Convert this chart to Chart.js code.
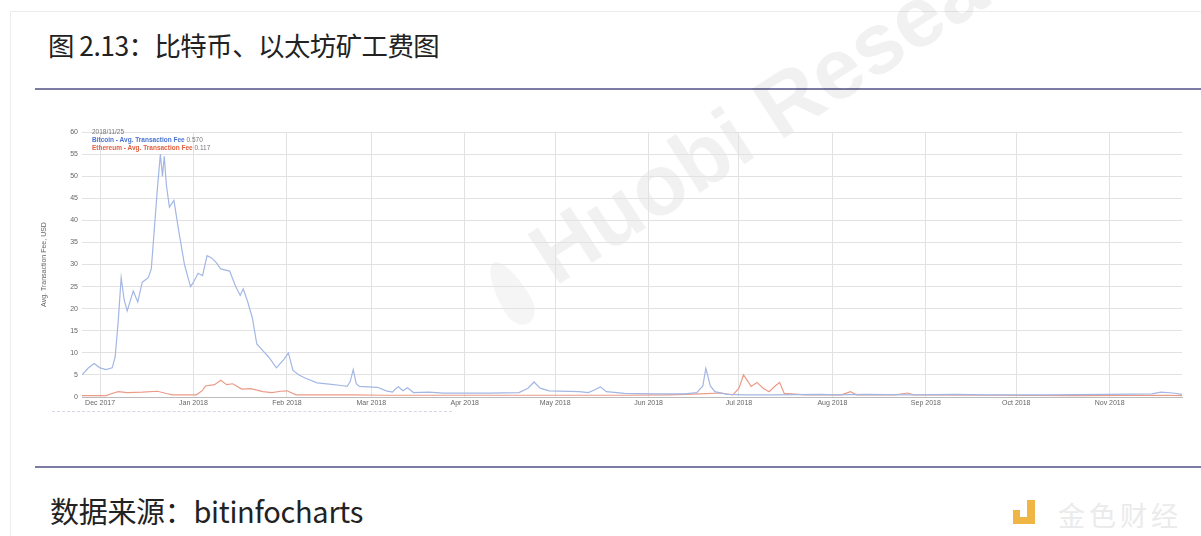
<!DOCTYPE html>
<html>
<head>
<meta charset="utf-8">
<script src="https://cdn.jsdelivr.net/npm/chart.js@4.4.1/dist/chart.umd.min.js"></script>
<style>
  html, body { margin: 0; padding: 0; background: #fff; }
  body { width: 1201px; height: 536px; position: relative; overflow: hidden; font-family: "Noto Sans CJK SC", "Noto Sans", sans-serif; }
  .card { position: absolute; left: 10px; top: 11px; width: 1300px; height: 600px; border-left: 1px solid #ececec; border-top: 1px solid #ececec; }
  .title { position: absolute; left: 48px; top: 25px; font-size: 26.4px; color: #222; letter-spacing: -0.5px; }
  .rule { position: absolute; left: 35px; right: 0; height: 2px; background: #7b7ba3; }
  .source { position: absolute; left: 50px; top: 490px; font-size: 29px; line-height: 40px; color: #222; letter-spacing: -0.3px; }
  #wrap { position: absolute; left: 40px; top: 120px; width: 1160px; height: 300px; }
  .legend { position: absolute; left: 92px; top: 128px; font-family: Arial, "Liberation Sans", sans-serif; font-size: 6.5px; line-height: 8px; color: #777; }
  .legend b { font-weight: bold; }
  .watermark { position: absolute; left: 562px; top: 212px; font-family: Arial, "Liberation Sans", sans-serif; font-size: 86px; font-weight: 600; line-height: 1; color: rgba(0,0,0,0.055); white-space: nowrap; transform-origin: 0 100%; transform: rotate(-33deg); }
  .drop { position: absolute; left: 496px; top: 258px; width: 30px; height: 70px; border-radius: 50% 50% 50% 50% / 70% 70% 30% 30%; background: rgba(0,0,0,0.04); transform: rotate(-30deg); }
  .dash { position: absolute; left: 52px; top: 411px; width: 400px; border-top: 1px dashed #d6d6e4; }
  .logo { position: absolute; left: 1013px; top: 500px; width: 22px; height: 24px; }
  .logo i { position: absolute; background: #efb545; }
  .brand { position: absolute; left: 1058px; top: 495px; font-size: 27px; color: #ebebeb; letter-spacing: 4px; }
</style>
</head>
<body>
<div class="card"></div>
<div class="title">图 2.13：比特币、以太坊矿工费图</div>
<div class="rule" style="top:88px"></div>
<div class="drop"></div>
<div class="watermark">Huobi Research</div>
<div id="wrap"><canvas id="feeChart"></canvas></div>
<div class="legend">
  <div>2018/11/25</div>
  <div><b style="color:#4a74d0">Bitcoin - Avg. Transaction Fee</b> 0.570</div>
  <div><b style="color:#e2603f">Ethereum - Avg. Transaction Fee</b> 0.117</div>
</div>
<div class="dash"></div>
<div class="rule" style="top:466px"></div>
<div class="source">数据来源：bitinfocharts</div>
<div class="logo">
  <i style="left:0;top:10px;width:7px;height:7px"></i>
  <i style="left:14px;top:0;width:8px;height:24px"></i>
  <i style="left:0;top:17px;width:22px;height:7px"></i>
</div>
<div class="brand">金色财经</div>
<script>
// days counted from 2017-11-25
const monthDays = [6, 37, 68, 96, 127, 157, 188, 218, 249, 280, 310, 341];
const monthLabels = ['Dec 2017', 'Jan 2018', 'Feb 2018', 'Mar 2018', 'Apr 2018', 'May 2018',
    'Jun 2018', 'Jul 2018', 'Aug 2018', 'Sep 2018', 'Oct 2018', 'Nov 2018'];

// Bitcoin avg. transaction fee (USD)
const btcDays = [0, 2, 4, 6, 8, 10, 11, 12, 13, 14, 15, 17, 18.5, 20, 22, 23, 24, 25, 26, 26.7, 27.3, 28,
    29, 30.5, 32, 34, 36, 37, 38.5, 40, 41.5, 43, 44.5, 46, 49, 51, 52.5, 53.5, 55, 56.5, 58, 60, 62,
    64.5, 67, 68.5, 70, 72, 74, 78, 82, 86, 88, 89, 90, 91, 92, 98, 101, 103, 104, 105, 106.5, 108,
    110, 115, 120, 127, 135, 145, 148, 150, 152, 155, 165, 168, 170, 172, 174, 180, 190, 200, 204,
    206, 207, 208.5, 210, 214, 220, 230, 245, 250, 260, 275, 290, 300, 320, 340, 355, 358, 362, 365];
const btcFees = [5.0, 6.5, 7.6, 6.6, 6.2, 6.6, 9, 17, 27, 22, 19.5, 24, 21.5, 26, 27, 29, 38, 47, 55, 50, 54.5, 48,
    43, 44.5, 38, 30, 25, 26, 28, 27.5, 32, 31.5, 30.5, 29, 28.5, 25, 23, 24.5, 21.5, 18, 12, 10.5, 9,
    6.6, 8.5, 10, 6, 5, 4.3, 3.2, 2.9, 2.6, 2.4, 3.5, 6.2, 3, 2.4, 2.2, 1.4, 1.1, 1.8, 2.3, 1.4, 2.1,
    1.0, 1.1, 0.9, 0.9, 0.9, 1.0, 2.0, 3.4, 2.0, 1.4, 1.2, 1.0, 1.6, 2.3, 1.2, 0.8, 0.7, 0.7, 1.0,
    2.5, 6.5, 2.5, 1.2, 0.6, 0.5, 0.5, 0.6, 0.5, 0.6, 0.5, 0.6, 0.5, 0.5, 0.6, 0.7, 1.1, 0.9, 0.6];

// Ethereum avg. transaction fee (USD)
const ethDays = [0, 8, 10, 12, 15, 20, 25, 28, 30, 38, 40, 41, 44, 46, 48, 50, 53, 56, 60, 63, 66, 68, 71,
    80, 90, 100, 120, 150, 180, 195, 205, 212, 216, 218, 219.5, 221, 222, 224, 226, 228, 230, 231.5,
    233, 240, 252, 255, 257, 270, 274, 276, 300, 330, 360, 365];
const ethFees = [0.3, 0.3, 0.8, 1.2, 1.0, 1.1, 1.3, 0.8, 0.5, 0.5, 1.5, 2.5, 2.8, 3.8, 2.8, 3.0, 1.8, 1.9, 1.2, 1.0, 1.3, 1.4, 0.5,
    0.5, 0.5, 0.4, 0.4, 0.4, 0.4, 0.5, 0.7, 0.9, 0.5, 2.0, 5.0, 3.5, 2.4, 3.3, 2.0, 1.2, 2.5, 3.3,
    0.8, 0.5, 0.5, 1.2, 0.5, 0.5, 0.9, 0.5, 0.4, 0.3, 0.4, 0.3];

const toPoints = (xs, ys) => xs.map((x, i) => ({ x: x, y: ys[i] }));

const tickFont = { family: 'Arial, "Liberation Sans", sans-serif', size: 7 };

const ctx = document.getElementById('feeChart').getContext('2d');
const feeChart = new Chart(ctx, {
    type: 'line',
    data: {
        datasets: [{
            label: 'Bitcoin - Avg. Transaction Fee',
            data: toPoints(btcDays, btcFees),
            borderColor: '#a3b7e4',
            borderWidth: 1.2,
            pointRadius: 0,
            tension: 0
        }, {
            label: 'Ethereum - Avg. Transaction Fee',
            data: toPoints(ethDays, ethFees),
            borderColor: '#eb9b88',
            borderWidth: 1.2,
            pointRadius: 0,
            tension: 0
        }]
    },
    options: {
        responsive: true,
        maintainAspectRatio: false,
        animation: false,
        layout: { padding: { top: 12, right: 18, bottom: 0, left: 0 } },
        plugins: {
            legend: { display: false },
            tooltip: { enabled: false }
        },
        scales: {
            x: {
                type: 'linear',
                min: 0,
                max: 365,
                afterBuildTicks: function (scale) {
                    scale.ticks = monthDays.map(d => ({ value: d }));
                },
                afterFit: function (scale) { scale.height = 23; },
                ticks: {
                    color: '#666',
                    font: tickFont,
                    maxRotation: 0,
                    autoSkip: false,
                    padding: 2,
                    callback: function (value) {
                        const i = monthDays.indexOf(value);
                        return i >= 0 ? monthLabels[i] : '';
                    }
                },
                grid: { color: '#e2e2e2', drawTicks: false },
                border: { color: '#bbb' }
            },
            y: {
                min: 0,
                max: 60,
                afterFit: function (scale) { scale.width = 42; },
                ticks: { stepSize: 5, color: '#666', font: tickFont, padding: 4 },
                grid: { color: '#e2e2e2', drawTicks: false },
                border: { display: false },
                title: {
                    display: true,
                    text: 'Avg. Transaction Fee, USD',
                    color: '#666',
                    font: tickFont,
                    padding: 0
                }
            }
        }
    }
});
</script>
</body>
</html>
